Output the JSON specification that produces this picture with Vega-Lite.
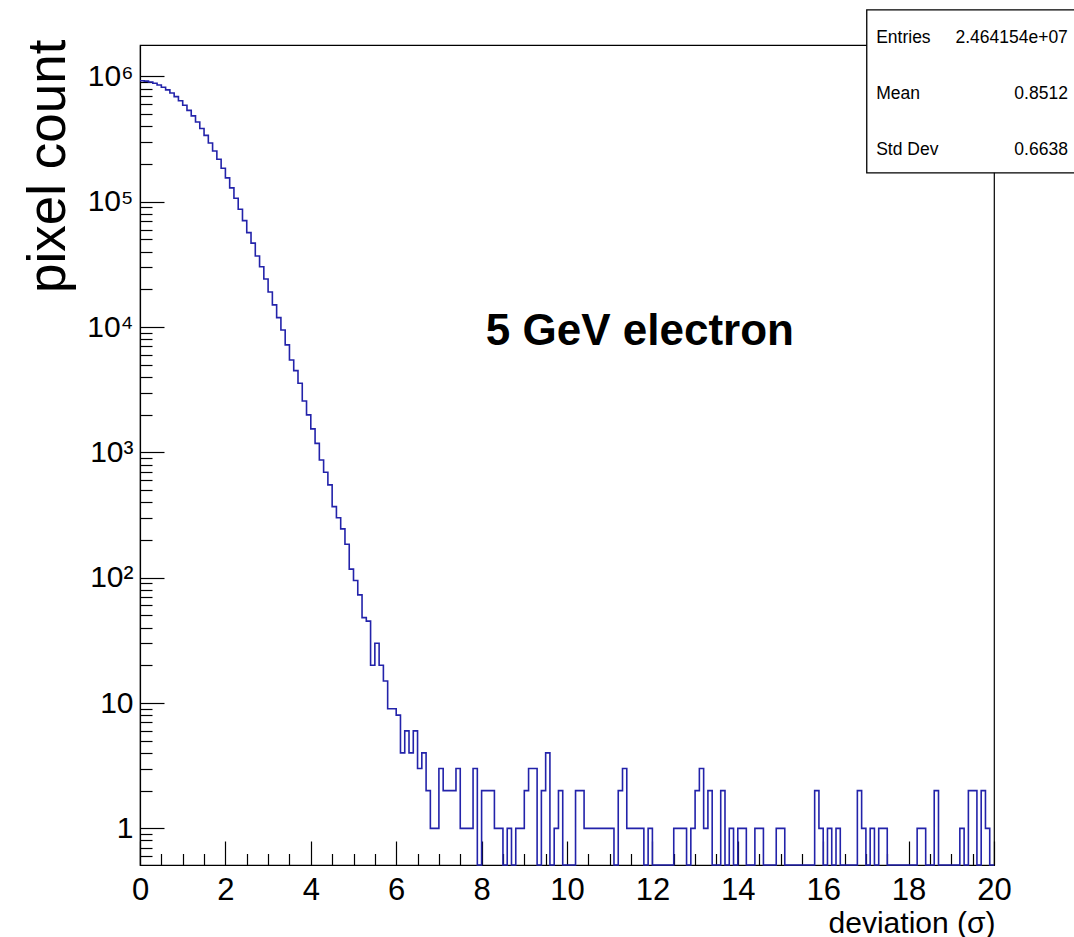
{
  "$schema": "https://vega.github.io/schema/vega-lite/v6.json",
  "width": 854,
  "height": 820,
  "autosize": {"type": "none"},
  "padding": {"left": 140, "top": 45, "right": 80, "bottom": 72},
  "background": "white",
  "config": {"view": {"stroke": "black", "strokeWidth": 1.2}, "font": "Liberation Sans"},
  "datasets": {
    "hist": [
      {"deviation": 0.0, "count": 924000}, {"deviation": 0.1, "count": 917000}, {"deviation": 0.2, "count": 903000}, {"deviation": 0.3, "count": 882000}, {"deviation": 0.4, "count": 854000},
      {"deviation": 0.5, "count": 820000}, {"deviation": 0.6, "count": 781000}, {"deviation": 0.7, "count": 737000}, {"deviation": 0.8, "count": 689000}, {"deviation": 0.9, "count": 639000},
      {"deviation": 1.0, "count": 588000}, {"deviation": 1.1, "count": 536000}, {"deviation": 1.2, "count": 484000}, {"deviation": 1.3, "count": 433000}, {"deviation": 1.4, "count": 384000},
      {"deviation": 1.5, "count": 338000}, {"deviation": 1.6, "count": 294000}, {"deviation": 1.7, "count": 254000}, {"deviation": 1.8, "count": 218000}, {"deviation": 1.9, "count": 185000},
      {"deviation": 2.0, "count": 155000}, {"deviation": 2.1, "count": 129000}, {"deviation": 2.2, "count": 106600}, {"deviation": 2.3, "count": 87100}, {"deviation": 2.4, "count": 70600},
      {"deviation": 2.5, "count": 56700}, {"deviation": 2.6, "count": 46700}, {"deviation": 2.7, "count": 36900}, {"deviation": 2.8, "count": 30300}, {"deviation": 2.9, "count": 24200},
      {"deviation": 3.0, "count": 19060}, {"deviation": 3.1, "count": 15020}, {"deviation": 3.2, "count": 11890}, {"deviation": 3.3, "count": 9480}, {"deviation": 3.4, "count": 7200},
      {"deviation": 3.5, "count": 5460}, {"deviation": 3.6, "count": 4490}, {"deviation": 3.7, "count": 3560}, {"deviation": 3.8, "count": 2570}, {"deviation": 3.9, "count": 1990},
      {"deviation": 4.0, "count": 1540}, {"deviation": 4.1, "count": 1180}, {"deviation": 4.2, "count": 870}, {"deviation": 4.3, "count": 694}, {"deviation": 4.4, "count": 550},
      {"deviation": 4.5, "count": 369}, {"deviation": 4.6, "count": 301}, {"deviation": 4.7, "count": 245}, {"deviation": 4.8, "count": 185}, {"deviation": 4.9, "count": 117},
      {"deviation": 5.0, "count": 95}, {"deviation": 5.1, "count": 73}, {"deviation": 5.2, "count": 48}, {"deviation": 5.3, "count": 45}, {"deviation": 5.4, "count": 20},
      {"deviation": 5.5, "count": 30}, {"deviation": 5.6, "count": 20}, {"deviation": 5.7, "count": 15}, {"deviation": 5.8, "count": 9}, {"deviation": 5.9, "count": 9},
      {"deviation": 6.0, "count": 8}, {"deviation": 6.1, "count": 4}, {"deviation": 6.2, "count": 6}, {"deviation": 6.3, "count": 4}, {"deviation": 6.4, "count": 6},
      {"deviation": 6.5, "count": 3}, {"deviation": 6.6, "count": 4}, {"deviation": 6.7, "count": 2}, {"deviation": 6.8, "count": 1}, {"deviation": 6.9, "count": 1},
      {"deviation": 7.0, "count": 3}, {"deviation": 7.1, "count": 2}, {"deviation": 7.2, "count": 2}, {"deviation": 7.3, "count": 2}, {"deviation": 7.4, "count": 3},
      {"deviation": 7.5, "count": 1}, {"deviation": 7.6, "count": 1}, {"deviation": 7.7, "count": 1}, {"deviation": 7.8, "count": 3}, {"deviation": 7.9, "count": 0},
      {"deviation": 8.0, "count": 2}, {"deviation": 8.1, "count": 2}, {"deviation": 8.2, "count": 2}, {"deviation": 8.3, "count": 1}, {"deviation": 8.4, "count": 1},
      {"deviation": 8.5, "count": 0}, {"deviation": 8.6, "count": 1}, {"deviation": 8.7, "count": 0}, {"deviation": 8.8, "count": 1}, {"deviation": 8.9, "count": 1},
      {"deviation": 9.0, "count": 2}, {"deviation": 9.1, "count": 3}, {"deviation": 9.2, "count": 3}, {"deviation": 9.3, "count": 0}, {"deviation": 9.4, "count": 2},
      {"deviation": 9.5, "count": 4}, {"deviation": 9.6, "count": 0}, {"deviation": 9.7, "count": 1}, {"deviation": 9.8, "count": 2}, {"deviation": 9.9, "count": 0},
      {"deviation": 10.0, "count": 0}, {"deviation": 10.1, "count": 0}, {"deviation": 10.2, "count": 2}, {"deviation": 10.3, "count": 2}, {"deviation": 10.4, "count": 1},
      {"deviation": 10.5, "count": 1}, {"deviation": 10.6, "count": 1}, {"deviation": 10.7, "count": 1}, {"deviation": 10.8, "count": 1}, {"deviation": 10.9, "count": 1},
      {"deviation": 11.0, "count": 1}, {"deviation": 11.1, "count": 0}, {"deviation": 11.2, "count": 2}, {"deviation": 11.3, "count": 3}, {"deviation": 11.4, "count": 1},
      {"deviation": 11.5, "count": 1}, {"deviation": 11.6, "count": 1}, {"deviation": 11.7, "count": 1}, {"deviation": 11.8, "count": 0}, {"deviation": 11.9, "count": 1},
      {"deviation": 12.0, "count": 0}, {"deviation": 12.1, "count": 0}, {"deviation": 12.2, "count": 0}, {"deviation": 12.3, "count": 0}, {"deviation": 12.4, "count": 0},
      {"deviation": 12.5, "count": 1}, {"deviation": 12.6, "count": 1}, {"deviation": 12.7, "count": 1}, {"deviation": 12.8, "count": 0}, {"deviation": 12.9, "count": 1},
      {"deviation": 13.0, "count": 2}, {"deviation": 13.1, "count": 3}, {"deviation": 13.2, "count": 1}, {"deviation": 13.3, "count": 2}, {"deviation": 13.4, "count": 0},
      {"deviation": 13.5, "count": 0}, {"deviation": 13.6, "count": 2}, {"deviation": 13.7, "count": 0}, {"deviation": 13.8, "count": 1}, {"deviation": 13.9, "count": 0},
      {"deviation": 14.0, "count": 1}, {"deviation": 14.1, "count": 1}, {"deviation": 14.2, "count": 0}, {"deviation": 14.3, "count": 0}, {"deviation": 14.4, "count": 1},
      {"deviation": 14.5, "count": 1}, {"deviation": 14.6, "count": 0}, {"deviation": 14.7, "count": 0}, {"deviation": 14.8, "count": 0}, {"deviation": 14.9, "count": 1},
      {"deviation": 15.0, "count": 1}, {"deviation": 15.1, "count": 0}, {"deviation": 15.2, "count": 0}, {"deviation": 15.3, "count": 0}, {"deviation": 15.4, "count": 0},
      {"deviation": 15.5, "count": 0}, {"deviation": 15.6, "count": 0}, {"deviation": 15.7, "count": 0}, {"deviation": 15.8, "count": 2}, {"deviation": 15.9, "count": 1},
      {"deviation": 16.0, "count": 0}, {"deviation": 16.1, "count": 1}, {"deviation": 16.2, "count": 0}, {"deviation": 16.3, "count": 1}, {"deviation": 16.4, "count": 0},
      {"deviation": 16.5, "count": 0}, {"deviation": 16.6, "count": 0}, {"deviation": 16.7, "count": 0}, {"deviation": 16.8, "count": 2}, {"deviation": 16.9, "count": 1},
      {"deviation": 17.0, "count": 0}, {"deviation": 17.1, "count": 1}, {"deviation": 17.2, "count": 0}, {"deviation": 17.3, "count": 1}, {"deviation": 17.4, "count": 1},
      {"deviation": 17.5, "count": 0}, {"deviation": 17.6, "count": 0}, {"deviation": 17.7, "count": 0}, {"deviation": 17.8, "count": 0}, {"deviation": 17.9, "count": 0},
      {"deviation": 18.0, "count": 0}, {"deviation": 18.1, "count": 0}, {"deviation": 18.2, "count": 1}, {"deviation": 18.3, "count": 1}, {"deviation": 18.4, "count": 0},
      {"deviation": 18.5, "count": 0}, {"deviation": 18.6, "count": 2}, {"deviation": 18.7, "count": 0}, {"deviation": 18.8, "count": 0}, {"deviation": 18.9, "count": 0},
      {"deviation": 19.0, "count": 0}, {"deviation": 19.1, "count": 0}, {"deviation": 19.2, "count": 1}, {"deviation": 19.3, "count": 0}, {"deviation": 19.4, "count": 2},
      {"deviation": 19.5, "count": 2}, {"deviation": 19.6, "count": 0}, {"deviation": 19.7, "count": 2}, {"deviation": 19.8, "count": 1}, {"deviation": 19.9, "count": 0},
      {"deviation": 20.0, "count": 0}
    ],
    "stats": [
      {"stat": "Entries", "value": "2.464154e+07"},
      {"stat": "Mean", "value": "0.8512"},
      {"stat": "Std Dev", "value": "0.6638"}
    ],
    "note": [{"label": "5 GeV electron"}]
  },
  "resolve": {"scale": {"y": "independent"}, "axis": {"x": "independent", "y": "independent"}},
  "layer": [
    {
      "data": {"name": "hist"},
      "mark": {"type": "line", "interpolate": "step-after", "color": "#2323aa", "strokeWidth": 1.6},
      "encoding": {
        "x": {
          "field": "deviation", "type": "quantitative",
          "scale": {"domain": [0, 20], "nice": false, "zero": false},
          "axis": {
            "orient": "bottom", "values": [0, 2, 4, 6, 8, 10, 12, 14, 16, 18, 20], "format": "d",
            "tickSize": -24, "tickColor": "black", "tickWidth": 1.2,
            "domainColor": "black", "domainWidth": 1.2, "grid": false,
            "labelFont": "Liberation Sans", "labelFontSize": 31, "labelColor": "black",
            "labelPadding": 58, "labelBaseline": "alphabetic", "labelFlush": false, "labelOverlap": false, "labelBound": false,
            "title": "deviation (σ)", "titleFont": "Liberation Sans", "titleFontSize": 30, "titleFontWeight": "normal", "titleColor": "black",
            "titleAlign": "right", "titleBaseline": "alphabetic", "titleX": 855, "titleY": 67, "titleAnchor": "end"
          }
        },
        "y": {
          "field": "count", "type": "quantitative",
          "scale": {"type": "log", "domain": [0.51, 1780000], "clamp": true, "nice": false},
          "axis": {
            "orient": "left", "values": [1, 10, 100, 1000, 10000, 100000, 1000000],
            "labelExpr": "datum.value < 5 ? '1' : datum.value < 50 ? '10' : '10' + ['','','²','³','⁴','⁵','⁶'][round(log(datum.value)/LN10)]",
            "tickSize": -24, "tickColor": "black", "tickWidth": 1.2,
            "domainColor": "black", "domainWidth": 1.2, "grid": false,
            "labelFont": "Liberation Sans", "labelFontSize": 30, "labelColor": "black",
            "labelPadding": 31, "labelBaseline": "middle", "labelAlign": "right", "labelOverlap": false, "labelBound": false, "labelFlush": false,
            "title": "pixel count", "titleFont": "Liberation Sans", "titleFontSize": 53, "titleFontWeight": "normal", "titleColor": "black",
            "titleAngle": 270, "titleAlign": "right", "titleBaseline": "alphabetic", "titleX": -76, "titleY": -6
          }
        }
      }
    },
    {
      "data": {"name": "hist"},
      "mark": {"type": "line", "interpolate": "step-after", "opacity": 0},
      "encoding": {
        "x": {
          "field": "deviation", "type": "quantitative",
          "scale": {"domain": [0, 20], "nice": false, "zero": false},
          "axis": {
            "orient": "bottom",
            "values": [0.5, 1, 1.5, 2.5, 3, 3.5, 4.5, 5, 5.5, 6.5, 7, 7.5, 8.5, 9, 9.5, 10.5, 11, 11.5, 12.5, 13, 13.5, 14.5, 15, 15.5, 16.5, 17, 17.5, 18.5, 19, 19.5],
            "tickSize": -11.5, "tickColor": "black", "tickWidth": 1.2,
            "domain": false, "labels": false, "grid": false, "title": null
          }
        },
        "y": {
          "field": "count", "type": "quantitative",
          "scale": {"type": "log", "domain": [0.51, 1780000], "clamp": true, "nice": false},
          "axis": {
            "orient": "left",
            "values": [0.6, 0.7, 0.8, 0.9, 2, 3, 4, 5, 6, 7, 8, 9, 20, 30, 40, 50, 60, 70, 80, 90, 200, 300, 400, 500, 600, 700, 800, 900, 2000, 3000, 4000, 5000, 6000, 7000, 8000, 9000, 20000, 30000, 40000, 50000, 60000, 70000, 80000, 90000, 200000, 300000, 400000, 500000, 600000, 700000, 800000, 900000],
            "tickSize": -12, "tickColor": "black", "tickWidth": 1.2,
            "domain": false, "labels": false, "grid": false, "title": null
          }
        }
      }
    },
    {
      "data": {"values": [{}]},
      "mark": {"type": "rect", "fill": "white", "stroke": "black", "strokeWidth": 1.3},
      "encoding": {
        "x": {"datum": 17.02, "type": "quantitative", "scale": {"domain": [0, 20], "nice": false, "zero": false}, "axis": null},
        "x2": {"datum": 23},
        "y": {"datum": 3400000, "type": "quantitative", "scale": {"type": "log", "domain": [0.51, 1780000], "nice": false}, "axis": null},
        "y2": {"datum": 170000}
      }
    },
    {
      "data": {"name": "stats"},
      "mark": {"type": "text", "align": "left", "baseline": "alphabetic", "font": "Liberation Sans", "fontSize": 17.5, "color": "black"},
      "encoding": {
        "x": {"datum": 17.24, "type": "quantitative", "scale": {"domain": [0, 20], "nice": false, "zero": false}, "axis": null},
        "y": {"field": "stat", "type": "nominal", "scale": {"type": "point", "domain": ["Entries", "Mean", "Std Dev"], "range": [-2, 110], "padding": 0}, "axis": null},
        "text": {"field": "stat"}
      }
    },
    {
      "data": {"name": "stats"},
      "mark": {"type": "text", "align": "right", "baseline": "alphabetic", "font": "Liberation Sans", "fontSize": 17.5, "color": "black"},
      "encoding": {
        "x": {"datum": 21.73, "type": "quantitative", "scale": {"domain": [0, 20], "nice": false, "zero": false}, "axis": null},
        "y": {"field": "stat", "type": "nominal", "scale": {"type": "point", "domain": ["Entries", "Mean", "Std Dev"], "range": [-2, 110], "padding": 0}, "axis": null},
        "text": {"field": "value"}
      }
    },
    {
      "data": {"name": "note"},
      "mark": {"type": "text", "align": "left", "baseline": "alphabetic", "font": "Liberation Sans", "fontWeight": "bold", "fontSize": 44, "color": "black"},
      "encoding": {
        "x": {"datum": 8.1, "type": "quantitative", "scale": {"domain": [0, 20], "nice": false, "zero": false}, "axis": null},
        "y": {"datum": 7200, "type": "quantitative", "scale": {"type": "log", "domain": [0.51, 1780000], "nice": false}, "axis": null},
        "text": {"field": "label"}
      }
    }
  ]
}
